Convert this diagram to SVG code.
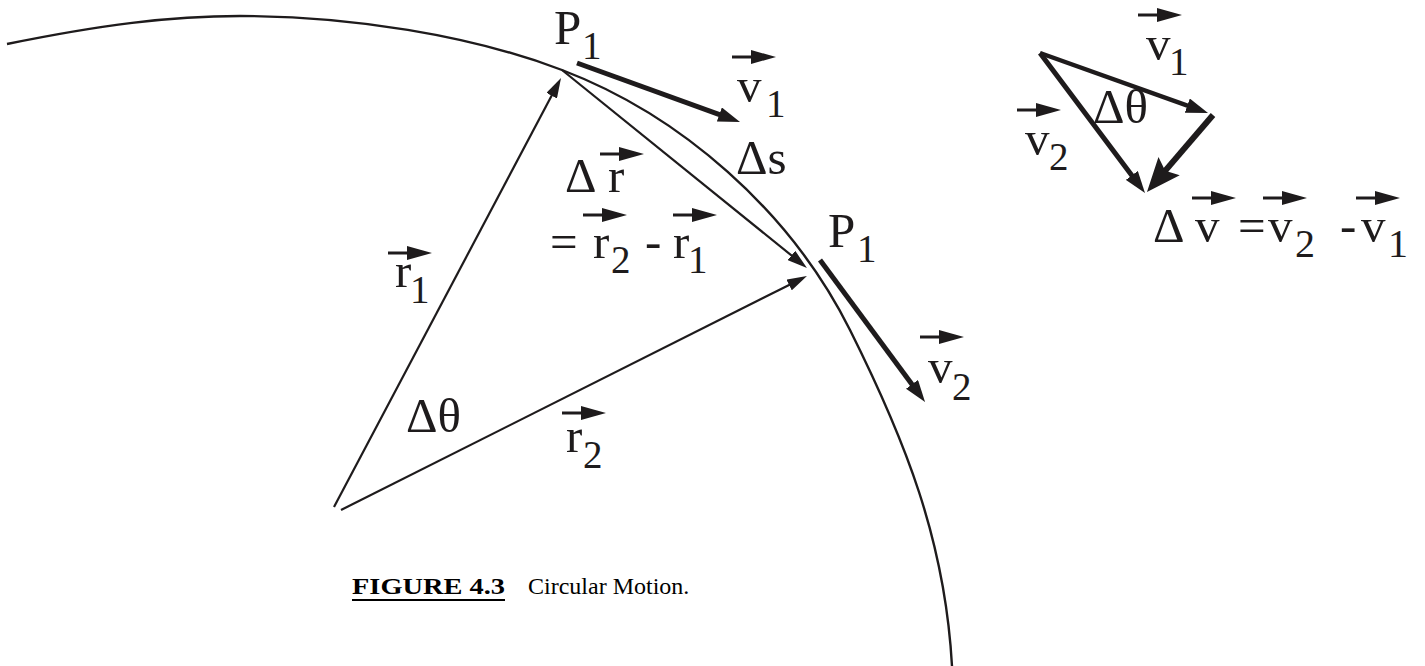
<svg xmlns="http://www.w3.org/2000/svg" width="1425" height="666" viewBox="0 0 1425 666">
<style>
.lbl{font-family:'Liberation Serif','Times New Roman',Times,serif;fill:#1e1b1c}
.vs{fill:none;stroke:#1e1b1c;stroke-width:3}
.vh{fill:#1e1b1c}
</style>
<defs>
<marker id="ah" markerUnits="userSpaceOnUse" viewBox="0 0 20 12" refX="14" refY="6" markerWidth="20" markerHeight="12" orient="auto"><path d="M0,0 L20,6 L0,12 Z" fill="#1e1b1c"/></marker>
<marker id="ahT" markerUnits="userSpaceOnUse" viewBox="0 0 22 15" refX="12" refY="7.5" markerWidth="22" markerHeight="15" orient="auto"><path d="M0,0 L22,7.5 L0,15 Z" fill="#1e1b1c"/></marker>
<marker id="ahB" markerUnits="userSpaceOnUse" viewBox="0 0 34 28" refX="18" refY="14" markerWidth="34" markerHeight="28" orient="auto"><path d="M0,0 L34,14 L0,28 L6,14 Z" fill="#1e1b1c"/></marker>
</defs>

<g id="circle-arc">
<path fill="none" stroke="#1e1b1c" stroke-width="2.4" d="M7,44 C100,25 170,16 240,16 C350,16 470,35 562,70 C680,115 790,210 850,330 C905,440 945,540 952,666"/>
</g>

<g id="connectors" fill="none" stroke="#1e1b1c">
<line id="r1" stroke-width="2.2" x1="334" y1="507" x2="558.2" y2="83.3" marker-end="url(#ah)"/>
<line id="r2" stroke-width="2.2" x1="341" y1="510" x2="801.6" y2="278.7" marker-end="url(#ah)"/>
<line id="dr" stroke-width="2.2" x1="562" y1="70" x2="802.3" y2="264.2" marker-end="url(#ah)"/>
<line id="v1" stroke-width="5" x1="577" y1="63" x2="730.6" y2="118.6" marker-end="url(#ahT)"/>
<line id="v2" stroke-width="5" x1="820" y1="260" x2="919.1" y2="394" marker-end="url(#ahT)"/>
<line id="tv1" stroke-width="4.5" x1="1040" y1="53" x2="1198.6" y2="109.6" marker-end="url(#ahT)"/>
<line id="tv2" stroke-width="5" x1="1040" y1="53" x2="1139" y2="185" marker-end="url(#ahT)"/>
<line id="tdv" stroke-width="6" x1="1213" y1="115" x2="1157.4" y2="179.9" marker-end="url(#ahB)"/>
</g>

<g id="labels" class="lbl" font-size="49">
<g id="label-P1-top"><text x="554" y="44">P</text><text font-size="39" x="582" y="59">1</text></g>
<g id="label-v1"><path class="vs" d="M732,57 h22"/><path class="vh" d="M751,50 L776,57 L751,64 Z"/><text x="737" y="102">v</text><text font-size="39" x="766" y="117">1</text></g>
<g id="label-ds"><text x="736" y="174">Δs</text></g>
<g id="label-dr"><text x="565" y="192">Δ</text><path class="vs" d="M600,154 h22"/><path class="vh" d="M619,147 L644,154 L619,161 Z"/><text x="608" y="192">r</text></g>
<g id="label-eq-r"><text x="550" y="258">=</text><path class="vs" d="M583,215 h22"/><path class="vh" d="M602,208 L627,215 L602,222 Z"/><text x="593" y="258">r</text><text font-size="39" x="611" y="273">2</text><text x="645" y="258">-</text><path class="vs" d="M673,215 h22"/><path class="vh" d="M692,208 L717,215 L692,222 Z"/><text x="673" y="258">r</text><text font-size="39" x="688" y="273">1</text></g>
<g id="label-r1"><path class="vs" d="M388,253 h22"/><path class="vh" d="M407,246 L432,253 L407,260 Z"/><text x="395" y="287">r</text><text font-size="39" x="410" y="303">1</text></g>
<g id="label-dtheta"><text x="406" y="432">Δθ</text></g>
<g id="label-r2"><path class="vs" d="M562,413 h22"/><path class="vh" d="M581,406 L606,413 L581,420 Z"/><text x="566" y="452">r</text><text font-size="39" x="583" y="468">2</text></g>
<g id="label-P1-low"><text x="828" y="247">P</text><text font-size="39" x="857" y="262">1</text></g>
<g id="label-v2"><path class="vs" d="M920,337 h22"/><path class="vh" d="M939,330 L964,337 L939,344 Z"/><text x="928" y="383">v</text><text font-size="39" x="952" y="400">2</text></g>
<g id="tri-label-v1"><path class="vs" d="M1138,15 h22"/><path class="vh" d="M1157,8 L1182,15 L1157,22 Z"/><text x="1146" y="60">v</text><text font-size="39" x="1169" y="75">1</text></g>
<g id="tri-label-v2"><path class="vs" d="M1017,110 h22"/><path class="vh" d="M1036,103 L1061,110 L1036,117 Z"/><text x="1025" y="155">v</text><text font-size="39" x="1049" y="170">2</text></g>
<g id="tri-label-dtheta"><text x="1093" y="123">Δθ</text></g>
<g id="tri-label-eq"><text x="1153" y="242">Δ</text><path class="vs" d="M1192,198 h22"/><path class="vh" d="M1211,191 L1236,198 L1211,205 Z"/><text x="1195" y="242">v</text><text x="1238" y="242">=</text><path class="vs" d="M1263,198 h22"/><path class="vh" d="M1282,191 L1307,198 L1282,205 Z"/><text x="1268" y="242">v</text><text font-size="40" x="1295" y="257">2</text><text x="1340" y="242">-</text><path class="vs" d="M1356,198 h22"/><path class="vh" d="M1375,191 L1400,198 L1375,205 Z"/><text x="1361" y="242">v</text><text font-size="40" x="1388" y="257">1</text></g>
</g>

<g id="caption" font-family="'Liberation Serif','Times New Roman',serif" font-size="24" fill="#000"><text x="352" y="594" font-weight="bold" textLength="153" lengthAdjust="spacingAndGlyphs">FIGURE 4.3</text><line x1="352" y1="600" x2="505" y2="600" stroke="#000" stroke-width="2"/><text x="528" y="594">Circular Motion.</text></g>
</svg>
